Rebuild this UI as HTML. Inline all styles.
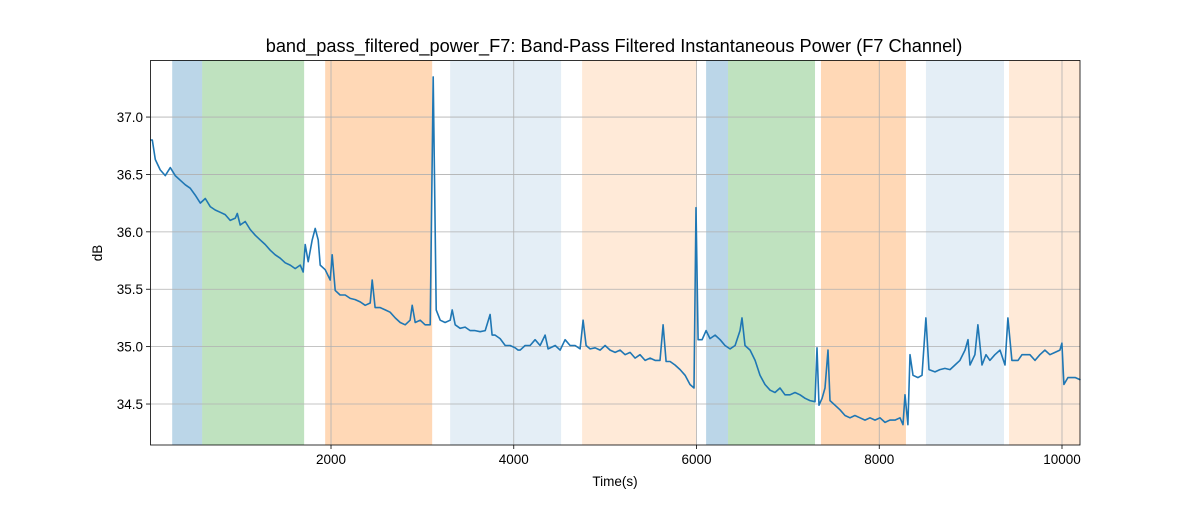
<!DOCTYPE html>
<html><head><meta charset="utf-8"><style>
body{margin:0;background:#fff}
svg text{font-family:"Liberation Sans","DejaVu Sans",sans-serif;fill:#000}
</style></head><body>
<svg id="chart" width="1200" height="500" xmlns="http://www.w3.org/2000/svg">
<rect width="1200" height="500" fill="#fff"/>
<g id="spans"></g><g id="grid"></g><g id="ticks"></g>
<path id="line" fill="none" stroke="#1f77b4" stroke-width="1.6" stroke-linejoin="round"/>
<rect x="150.5" y="60.5" width="929.5" height="384.5" fill="none" stroke="#000" stroke-width="0.8"/>
<text x="614" y="52" font-size="18.2" text-anchor="middle">band_pass_filtered_power_F7: Band-Pass Filtered Instantaneous Power (F7 Channel)</text>
<text x="615" y="486" font-size="13.5" text-anchor="middle">Time(s)</text>
<text x="102" y="253" font-size="13.5" text-anchor="middle" transform="rotate(-90 102 253)">dB</text>
</svg>
<script>
const times=[22,44,77,131,186,241,295,350,405,459,514,569,624,678,733,788,842,897,952,974,1006,1061,1116,1171,1225,1280,1335,1389,1444,1499,1553,1608,1663,1696,1718,1750,1794,1827,1860,1882,1936,1991,2013,2046,2100,2155,2210,2265,2319,2374,2429,2451,2483,2538,2593,2647,2702,2757,2812,2866,2888,2921,2976,3030,3085,3118,3151,3195,3249,3304,3326,3359,3413,3468,3523,3577,3632,3687,3741,3763,3796,3851,3906,3960,4015,4048,4070,4124,4179,4234,4288,4343,4376,4453,4507,4562,4617,4671,4726,4759,4792,4835,4890,4945,5000,5054,5109,5164,5218,5273,5328,5382,5437,5492,5547,5601,5634,5667,5711,5765,5820,5875,5929,5973,5995,6017,6061,6105,6148,6203,6258,6312,6367,6422,6476,6498,6531,6586,6641,6695,6750,6805,6859,6914,6969,7023,7078,7133,7188,7242,7297,7319,7341,7374,7406,7439,7461,7516,7570,7625,7680,7734,7789,7844,7899,7953,8008,8063,8117,8172,8227,8260,8282,8314,8336,8369,8424,8468,8511,8544,8610,8664,8719,8774,8829,8883,8938,8971,8993,9047,9080,9124,9168,9211,9266,9321,9376,9408,9452,9518,9562,9649,9704,9758,9813,9868,9923,9977,9999,10021,10065,10147,10202];
const powerDb=[36.80,36.80,36.63,36.54,36.49,36.56,36.49,36.45,36.41,36.38,36.32,36.25,36.29,36.22,36.19,36.17,36.15,36.10,36.12,36.16,36.06,36.09,36.02,35.97,35.93,35.89,35.84,35.80,35.77,35.73,35.71,35.68,35.71,35.65,35.89,35.74,35.93,36.03,35.93,35.71,35.67,35.58,35.80,35.49,35.45,35.45,35.42,35.41,35.39,35.36,35.38,35.58,35.34,35.34,35.32,35.30,35.25,35.21,35.19,35.23,35.36,35.21,35.23,35.19,35.19,37.35,35.32,35.23,35.21,35.23,35.32,35.19,35.16,35.17,35.14,35.14,35.13,35.14,35.28,35.10,35.10,35.07,35.01,35.01,34.99,34.97,34.97,35.01,35.01,35.06,35.01,35.10,34.98,35.01,34.97,35.06,35.01,35.01,34.98,35.23,35.01,34.98,34.99,34.97,35.01,34.97,34.95,34.97,34.93,34.95,34.90,34.93,34.88,34.90,34.88,34.88,35.19,34.87,34.87,34.84,34.80,34.75,34.67,34.64,36.21,35.06,35.06,35.14,35.07,35.10,35.06,35.01,34.98,35.01,35.14,35.25,35.01,34.97,34.88,34.75,34.67,34.62,34.60,34.64,34.58,34.58,34.60,34.58,34.55,34.53,34.52,34.99,34.49,34.55,34.64,34.97,34.53,34.49,34.45,34.40,34.38,34.40,34.38,34.36,34.38,34.36,34.38,34.34,34.36,34.36,34.38,34.32,34.58,34.32,34.93,34.75,34.73,34.75,35.25,34.80,34.78,34.80,34.81,34.80,34.84,34.88,34.97,35.06,34.84,34.93,35.19,34.84,34.93,34.88,34.93,34.97,34.84,35.25,34.88,34.88,34.93,34.93,34.88,34.93,34.97,34.93,34.95,34.97,35.03,34.67,34.73,34.73,34.71];
const spanStarts=[262,590,1936,3304,4748,6105,6345,7362,8511,9420];
const spanEnds=[590,1706,3107,4518,5996,6345,7297,8292,9365,10197];
const spanColors=["c0","c2","c1","c0l","c1l","c0","c2","c1","c0l","c1l"];
const xTicks=[2000,4000,6000,8000,10000];
const yTicks=[34.5,35.0,35.5,36.0,36.5,37.0];
const X0=150,X1=1080,Y0=445,Y1=60,XMIN=19,XMAX=10197,YMIN=34.143,YMAX=37.497;
const sx=v=>X0+(v-XMIN)/(XMAX-XMIN)*(X1-X0);
const sy=v=>Y0-(v-YMIN)/(YMAX-YMIN)*(Y0-Y1);
const fills={c0:["#1f77b4",0.3],c2:["#2ca02c",0.3],c1:["#ff7f0e",0.3],c0l:["#1f77b4",0.12],c1l:["#ff7f0e",0.16]};
const NS="http://www.w3.org/2000/svg";
const sp=document.getElementById('spans');
spanStarts.forEach((s,i)=>{const r=document.createElementNS(NS,'rect');
r.setAttribute('x',sx(s));r.setAttribute('y',Y1);r.setAttribute('width',sx(spanEnds[i])-sx(s));r.setAttribute('height',Y0-Y1);
const f=fills[spanColors[i]];r.setAttribute('fill',f[0]);r.setAttribute('fill-opacity',f[1]);


sp.appendChild(r);});
const g=document.getElementById('grid'),tk=document.getElementById('ticks');
function ln(p,x1,y1,x2,y2,c,w){const l=document.createElementNS(NS,'line');l.setAttribute('x1',x1);l.setAttribute('y1',y1);l.setAttribute('x2',x2);l.setAttribute('y2',y2);l.setAttribute('stroke',c);l.setAttribute('stroke-width',w);p.appendChild(l);return l;}
function tx(x,y,s,a){const t=document.createElementNS(NS,'text');t.setAttribute('x',x);t.setAttribute('y',y);t.setAttribute('font-size','13.5');t.setAttribute('text-anchor',a);t.textContent=s;tk.appendChild(t);return t;}
xTicks.forEach(v=>{const x=sx(v);
const gl=ln(g,x,Y1,x,Y0,'#b0b0b0',0.8);


ln(tk,x,Y0,x,Y0+4,'#000',0.8);
const t=tx(x,Y0+19,String(v),'middle');

});
yTicks.forEach(v=>{const y=sy(v);
const gl=ln(g,X0,y,X1,y,'#b0b0b0',0.8);


ln(tk,X0-4,y,X0,y,'#000',0.8);
const t=tx(X0-7,y+5,v.toFixed(1),'end');

});
document.getElementById('line').setAttribute('d',times.map((t,i)=>(i?'L':'M')+sx(t).toFixed(1)+','+sy(powerDb[i]).toFixed(1)).join(''));
</script>
</body></html>
